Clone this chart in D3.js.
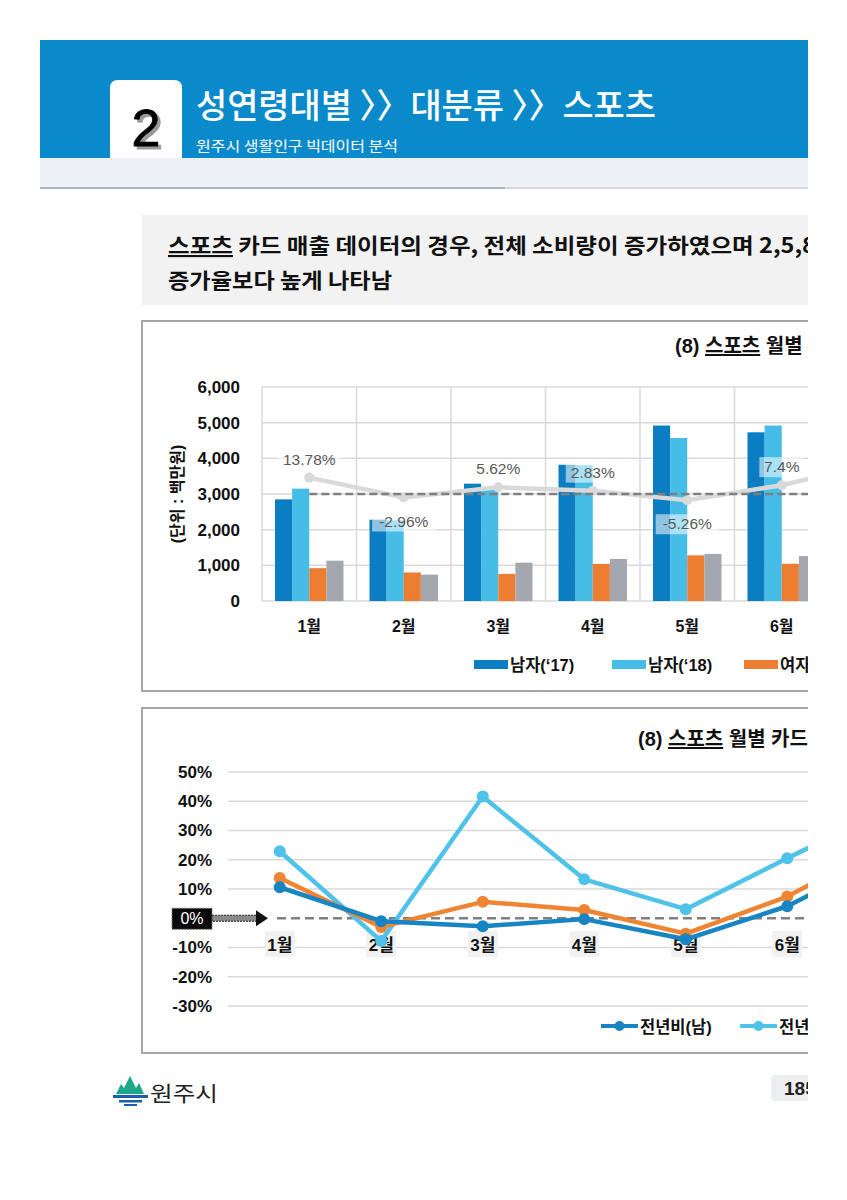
<!DOCTYPE html>
<html>
<head>
<meta charset="utf-8">
<script src="https://cdn.jsdelivr.net/npm/d3@7"></script>
<style>
  body { margin: 0; background: #fff; }
  svg { display: block; }
  text { font-family: 'Liberation Sans', 'Noto Sans CJK KR', sans-serif; }
  .kr { font-family: 'Noto Sans CJK KR', sans-serif; }
</style>
</head>
<body>
<svg id="page" width="847" height="1200"></svg>
<script>
// chart 1: monthly card sales (million won)
var months = ['1월', '2월', '3월', '4월', '5월', '6월', '7월'];
var barKeys = ['남자(‘17)', '남자(‘18)', '여자(‘17)', '여자(‘18)'];
var male17 = [2850, 2280, 3290, 3820, 4920, 4730];
var male18 = [3150, 2260, 3200, 3810, 4570, 4920];
var female17 = [920, 800, 760, 1040, 1280, 1045];
var female18 = [1130, 740, 1075, 1180, 1320, 1260];
var totalRate = [13.78, -2.96, 5.62, 2.83, -5.26, 7.4, 26];
var rateLabels = ['13.78%', '-2.96%', '5.62%', '2.83%', '-5.26%', '7.4%'];
var salesTicks = [0, 1000, 2000, 3000, 4000, 5000, 6000];

// chart 2: year-on-year change (%)
var rateMale = [10.6, -1.0, -2.7, -0.3, -7.2, 4.1, 21.5];
var rateFemale = [22.9, -7.8, 41.6, 13.3, 3.1, 20.5, 37.5];
var lineKeys = ['전년비(남)', '전년비(여)', '전년비(전체)'];
var rateTicks = [-30, -20, -10, 0, 10, 20, 30, 40, 50];

var barColors = ['#0b7dc2', '#45bde6', '#ed7d31', '#a4a7ad'];
var lineColors = ['#1784c4', '#4fc2e9', '#ef8533'];

var svg = d3.select('#page');
var defs = svg.append('defs');
defs.append('clipPath').attr('id', 'crop')
    .append('rect').attr('x', 0).attr('y', 0).attr('width', 808).attr('height', 1200);

var page = svg.append('g').attr('clip-path', 'url(#crop)');

// ---- header ----
page.append('rect').attr('x', 40).attr('y', 40).attr('width', 800).attr('height', 118).attr('fill', '#0a8acb');
page.append('rect').attr('x', 40).attr('y', 158).attr('width', 800).attr('height', 30).attr('fill', '#edf0f4');
page.append('line').attr('x1', 40).attr('x2', 505).attr('y1', 188).attr('y2', 188)
    .attr('stroke', '#a9b4c3').attr('stroke-width', 2);
page.append('line').attr('x1', 505).attr('x2', 840).attr('y1', 188).attr('y2', 188)
    .attr('stroke', '#d4d9e0').attr('stroke-width', 2);
page.append('path')
    .attr('d', 'M110,158 V88 Q110,80 118,80 H174 Q182,80 182,88 V158 Z')
    .attr('fill', '#fff');
page.append('text').attr('x', 146).attr('y', 146).attr('text-anchor', 'middle')
    .attr('font-size', 52).attr('fill', '#000').attr('stroke', '#000').attr('stroke-width', 0.8)
    .style('filter', 'drop-shadow(3px 3px 0 #9a9a9a)')
    .text('2');
page.append('text').attr('class', 'kr').attr('x', 196).attr('y', 118)
    .attr('font-size', 34).attr('font-weight', 500).attr('fill', '#fff')
    .attr('textLength', 460).attr('lengthAdjust', 'spacingAndGlyphs')
    .text('성연령대별 〉〉대분류 〉〉스포츠');
page.append('text').attr('class', 'kr').attr('x', 196).attr('y', 151)
    .attr('font-size', 14).attr('fill', '#fff')
    .attr('textLength', 202).attr('lengthAdjust', 'spacingAndGlyphs')
    .text('원주시 생활인구 빅데이터 분석');

// ---- summary box ----
page.append('rect').attr('x', 142).attr('y', 215).attr('width', 700).attr('height', 90).attr('fill', '#f2f2f2');
var s1 = page.append('text').attr('class', 'kr').attr('x', 168).attr('y', 253)
    .attr('font-size', 21).attr('font-weight', 700).attr('fill', '#111')
    .attr('textLength', 648).attr('lengthAdjust', 'spacingAndGlyphs');
s1.append('tspan').style('text-decoration', 'underline').text('스포츠');
s1.append('tspan').text(' 카드 매출 데이터의 경우, 전체 소비량이 증가하였으며 2,5,8');
page.append('text').attr('class', 'kr').attr('x', 168).attr('y', 288)
    .attr('font-size', 21).attr('font-weight', 700).attr('fill', '#111')
    .attr('textLength', 224).attr('lengthAdjust', 'spacingAndGlyphs')
    .text('증가율보다 높게 나타남');

// ---- chart 1 ----
var c1 = page.append('g');
c1.append('rect').attr('x', 142).attr('y', 321).attr('width', 700).attr('height', 370)
    .attr('fill', '#fff').attr('stroke', '#a6a6a6').attr('stroke-width', 2);
var t1 = c1.append('text').attr('x', 675).attr('y', 353).attr('font-size', 20).attr('font-weight', 700).attr('fill', '#111');
t1.append('tspan').text('(8) ');
t1.append('tspan').style('text-decoration', 'underline').text('스포츠');
t1.append('tspan').text(' 월별 카드 매출 현황');

var x = d3.scaleBand().domain(months).range([262, 262 + months.length * 94.5]);
var x1 = d3.scaleBand().domain(barKeys).range([13, x.bandwidth() - 13]);
var y = d3.scaleLinear().domain([0, 6000]).range([601, 387]);
var yRate = d3.scaleLinear().domain([-90, 90]).range([601, 387]);

c1.append('g').selectAll('line').data(salesTicks.slice(1)).enter().append('line')
    .attr('x1', 262).attr('x2', 850)
    .attr('y1', function(d) { return y(d); }).attr('y2', function(d) { return y(d); })
    .attr('stroke', '#d9d9d9').attr('stroke-width', 1.5);
c1.append('g').selectAll('line').data(months).enter().append('line')
    .attr('x1', function(d) { return x(d); }).attr('x2', function(d) { return x(d); })
    .attr('y1', y(6000)).attr('y2', y(0))
    .attr('stroke', '#d9d9d9').attr('stroke-width', 1.5);
c1.append('line').attr('x1', 262).attr('x2', 850).attr('y1', y(0)).attr('y2', y(0))
    .attr('stroke', '#d9d9d9').attr('stroke-width', 1.5);

var yAxis1 = d3.axisLeft(y).tickValues(salesTicks).tickSize(0).tickPadding(0).tickFormat(d3.format(','));
c1.append('g').attr('transform', 'translate(240,0)').call(yAxis1)
    .call(function(g) { g.select('.domain').remove(); })
    .selectAll('text').attr('font-size', 17).attr('font-weight', 700).attr('fill', '#111')
    .attr('font-family', 'Liberation Sans, sans-serif');

c1.append('text').attr('transform', 'translate(183,494) rotate(-90)').attr('text-anchor', 'middle')
    .attr('font-size', 16).attr('font-weight', 700).attr('fill', '#111').text('(단위 : 백만원)');

var xAxis1 = d3.axisBottom(x).tickSize(0).tickPadding(0);
c1.append('g').attr('transform', 'translate(0,621)').call(xAxis1)
    .call(function(g) { g.select('.domain').remove(); })
    .selectAll('text').attr('font-size', 16).attr('font-weight', 700).attr('fill', '#111');

var barSeries = [male17, male18, female17, female18];
var barData = [];
male17.forEach(function(v, i) {
    barKeys.forEach(function(k, j) {
        barData.push({ month: months[i], key: k, value: barSeries[j][i], color: barColors[j] });
    });
});
c1.append('g').selectAll('rect').data(barData).enter().append('rect')
    .attr('x', function(d) { return x(d.month) + x1(d.key); })
    .attr('y', function(d) { return y(d.value); })
    .attr('width', x1.bandwidth())
    .attr('height', function(d) { return y(0) - y(d.value); })
    .attr('fill', function(d) { return d.color; });

// total growth rate line on hidden secondary axis
var cx = function(i) { return x(months[i]) + x.bandwidth() / 2; };
var rateLine = d3.line().x(function(d, i) { return cx(i); }).y(function(d) { return yRate(d); });
c1.append('path').datum(totalRate).attr('d', rateLine)
    .attr('fill', 'none').attr('stroke', '#d9d9d9').attr('stroke-width', 4.5);
c1.append('g').selectAll('circle').data(totalRate).enter().append('circle')
    .attr('cx', function(d, i) { return cx(i); }).attr('cy', function(d) { return yRate(d); })
    .attr('r', 5).attr('fill', '#d9d9d9');
c1.append('line').attr('x1', cx(0)).attr('x2', 850).attr('y1', yRate(0)).attr('y2', yRate(0))
    .attr('stroke', '#7f7f7f').attr('stroke-width', 2.5).attr('stroke-dasharray', '8,4');

var lab = c1.append('g').selectAll('g').data(rateLabels).enter().append('g')
    .attr('transform', function(d, i) {
        var v = totalRate[i];
        return 'translate(' + cx(i) + ',' + (yRate(v) + (v >= 0 ? -13 : 29)) + ')';
    });
lab.append('rect').attr('x', function(d) { return -d.length * 4.6 - 4; }).attr('y', -15)
    .attr('width', function(d) { return d.length * 9.2 + 8; }).attr('height', 20)
    .attr('fill', '#fff').attr('opacity', 0.55);
lab.append('text').attr('text-anchor', 'middle').attr('font-size', 15.5).attr('fill', '#595959')
    .text(function(d) { return d; });

var leg1X = [474, 612, 744, 876];
var leg1 = c1.append('g').selectAll('g').data(barKeys).enter().append('g')
    .attr('transform', function(d, i) { return 'translate(' + leg1X[i] + ',660)'; });
leg1.append('rect').attr('width', 34).attr('height', 9).attr('fill', function(d, i) { return barColors[i]; });
leg1.append('text').attr('x', 36).attr('y', 11).attr('font-size', 16.5).attr('font-weight', 700).attr('fill', '#111')
    .text(function(d) { return d; });

// ---- chart 2 ----
var c2 = page.append('g');
c2.append('rect').attr('x', 142).attr('y', 708).attr('width', 700).attr('height', 345)
    .attr('fill', '#fff').attr('stroke', '#a6a6a6').attr('stroke-width', 2);
var t2 = c2.append('text').attr('x', 638).attr('y', 746).attr('font-size', 20).attr('font-weight', 700).attr('fill', '#111');
t2.append('tspan').text('(8) ');
t2.append('tspan').style('text-decoration', 'underline').text('스포츠');
t2.append('tspan').text(' 월별 카드 매출 증감률');

var xb = d3.scaleBand().domain(months).range([229, 229 + months.length * 101.5]);
var y2 = d3.scaleLinear().domain([-30, 50]).range([1006, 772]);
var px = function(i) { return xb(months[i]) + xb.bandwidth() / 2; };

c2.append('g').selectAll('line').data(rateTicks.filter(function(d) { return d !== 0; })).enter().append('line')
    .attr('x1', 228).attr('x2', 850)
    .attr('y1', function(d) { return y2(d); }).attr('y2', function(d) { return y2(d); })
    .attr('stroke', '#d9d9d9').attr('stroke-width', 1.5);

var yAxis2 = d3.axisLeft(y2).tickValues(rateTicks.filter(function(d) { return d !== 0; }))
    .tickSize(0).tickPadding(0).tickFormat(function(d) { return d + '%'; });
c2.append('g').attr('transform', 'translate(212,0)').call(yAxis2)
    .call(function(g) { g.select('.domain').remove(); })
    .selectAll('text').attr('font-size', 17).attr('font-weight', 700).attr('fill', '#111');

// "0%" marker with arrow
c2.append('rect').attr('x', 172).attr('y', y2(0) - 10).attr('width', 40).attr('height', 21).attr('fill', '#0a0a0a')
    .attr('stroke', '#777').attr('stroke-dasharray', '2,1');
c2.append('text').attr('x', 192).attr('y', y2(0) + 6).attr('text-anchor', 'middle')
    .attr('font-size', 16).attr('fill', '#fff').text('0%');
c2.append('rect').attr('x', 212).attr('y', y2(0) - 3).attr('width', 45).attr('height', 6)
    .attr('fill', '#8a8a8a').attr('stroke', '#222').attr('stroke-width', 1).attr('stroke-dasharray', '2,1');
c2.append('path').attr('d', 'M256,' + (y2(0) - 8) + ' L268,' + y2(0) + ' L256,' + (y2(0) + 8) + ' Z')
    .attr('fill', '#111');
c2.append('line').attr('x1', 277).attr('x2', 850).attr('y1', y2(0)).attr('y2', y2(0))
    .attr('stroke', '#808080').attr('stroke-width', 2.5).attr('stroke-dasharray', '9,5');

// month labels with grey boxes
var xl = c2.append('g').selectAll('g').data(months).enter().append('g')
    .attr('transform', function(d, i) { return 'translate(' + px(i) + ',0)'; });
xl.append('rect').attr('x', -15).attr('y', 931).attr('width', 30).attr('height', 26).attr('fill', '#f1f1f1');
xl.append('text').attr('text-anchor', 'middle').attr('y', 951).attr('font-size', 17).attr('font-weight', 700)
    .attr('fill', '#111').text(function(d) { return d; });

var lineSeries = [rateMale, rateFemale, totalRate];
var line2 = d3.line().x(function(d, i) { return px(i); }).y(function(d) { return y2(d); });
[1, 2, 0].forEach(function(s) {
    c2.append('path').datum(lineSeries[s]).attr('d', line2)
        .attr('fill', 'none').attr('stroke', lineColors[s]).attr('stroke-width', 4.5)
        .attr('stroke-linejoin', 'round');
    c2.append('g').selectAll('circle').data(lineSeries[s]).enter().append('circle')
        .attr('cx', function(d, i) { return px(i); }).attr('cy', function(d) { return y2(d); })
        .attr('r', 6).attr('fill', lineColors[s]);
});

var leg2X = [601, 740, 880];
var leg2 = c2.append('g').selectAll('g').data(lineKeys).enter().append('g')
    .attr('transform', function(d, i) { return 'translate(' + leg2X[i] + ',1026)'; });
leg2.append('line').attr('x1', 0).attr('x2', 37)
    .attr('stroke', function(d, i) { return lineColors[i]; }).attr('stroke-width', 4);
leg2.append('circle').attr('cx', 18.5).attr('r', 5).attr('fill', function(d, i) { return lineColors[i]; });
leg2.append('text').attr('x', 39).attr('y', 7).attr('font-size', 16.5).attr('font-weight', 700).attr('fill', '#111')
    .text(function(d) { return d; });

// ---- footer ----
var logo = page.append('g');
logo.append('path')
    .attr('d', 'M116,1094 L121,1084 L124,1088 L130,1076 L136,1088 L139,1083 L144,1094 Z')
    .attr('fill', '#1ba88c');
logo.append('rect').attr('x', 113).attr('y', 1095).attr('width', 35).attr('height', 3).attr('fill', '#1b5fa8');
logo.append('rect').attr('x', 119).attr('y', 1100).attr('width', 23).attr('height', 2.5).attr('fill', '#1b5fa8');
logo.append('rect').attr('x', 124).attr('y', 1104).attr('width', 13).attr('height', 2).attr('fill', '#1b5fa8');
page.append('text').attr('class', 'kr').attr('x', 150).attr('y', 1101).attr('font-size', 21)
    .attr('fill', '#222').attr('textLength', 68).attr('lengthAdjust', 'spacingAndGlyphs').text('원주시');
page.append('rect').attr('x', 771).attr('y', 1075).attr('width', 60).attr('height', 26).attr('rx', 4).attr('fill', '#eceef2');
page.append('text').attr('x', 784).attr('y', 1095).attr('font-size', 19).attr('font-weight', 700)
    .attr('fill', '#222').text('185');
</script>
</body>
</html>
